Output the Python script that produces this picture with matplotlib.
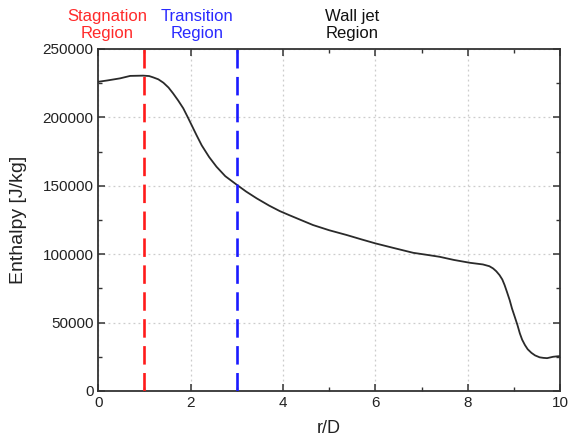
import matplotlib
matplotlib.use("Agg")
import matplotlib.pyplot as plt
import matplotlib.transforms as mtransforms
from matplotlib.ticker import MultipleLocator

plt.rcParams['font.family'] = ['Liberation Sans', 'DejaVu Sans']

# enthalpy profile along the wall
r_d = [0.0, 0.2, 0.47, 0.69, 0.97, 1.1, 1.19, 1.3, 1.41, 1.52, 1.62, 1.73,
       1.84, 1.93, 2.02, 2.13, 2.24, 2.4, 2.56, 2.75, 2.98, 3.2, 3.43, 3.7,
       3.93, 4.13, 4.4, 4.65, 5.0, 5.38, 5.7, 6.0, 6.4, 6.82, 7.1, 7.39,
       7.7, 8.05, 8.33, 8.47, 8.55, 8.62, 8.69, 8.75, 8.80, 8.85, 8.91,
       8.96, 9.02, 9.08, 9.13, 9.18, 9.24, 9.3, 9.38, 9.46, 9.56, 9.64,
       9.72, 9.85, 9.93, 10.0]
enthalpy = [226000, 227000, 228500, 230300, 230500, 230200, 229200, 227800,
            225300, 221800, 217500, 212300, 206600, 200600, 194400, 186800,
            179500, 171000, 163900, 157000, 151200, 145800, 140800, 135500,
            131500, 128600, 124800, 121300, 117500, 114000, 110800, 107900,
            104500, 101000, 99600, 98100, 95800, 93700, 92500, 91200, 89600,
            87500, 84700, 81500, 77400, 72500, 66400, 60300, 54200, 48000,
            42100, 37500, 33600, 30500, 27900, 26000, 24600, 24200, 24000,
            25000, 25300, 25500]

# region boundaries and their labels
boundaries = [1, 3]
boundary_colors = ['#ff1a1a', '#1a1aff']
region_labels = ['Stagnation\nRegion', 'Transition\nRegion', 'Wall jet\nRegion']
region_label_x = [0.2, 2.14, 5.5]
region_colors = ['#ff2a2a', '#2a2aff', '#111111']

fig = plt.figure(figsize=(5.69, 4.41), dpi=100)
ax = fig.add_axes([0.1728, 0.1134, 0.8114, 0.7756])

ax.plot(r_d, enthalpy, color='#2a2a2a', linewidth=1.3, zorder=3)

for xb, c in zip(boundaries, boundary_colors):
    ax.axvline(xb, color=c, linewidth=1.9, dashes=(7, 3.2), zorder=4)

trans = mtransforms.blended_transform_factory(ax.transData, ax.transAxes)
for txt, xpos, c in zip(region_labels, region_label_x, region_colors):
    ax.text(xpos, 1.022, txt, transform=trans, color=c, fontsize=12,
            ha='center', va='bottom', linespacing=1.2)

ax.set_xlim(0, 10)
ax.set_ylim(0, 250000)
ax.xaxis.set_major_locator(MultipleLocator(2))
ax.xaxis.set_minor_locator(MultipleLocator(1))
ax.yaxis.set_major_locator(MultipleLocator(50000))
ax.yaxis.set_minor_locator(MultipleLocator(25000))

ax.grid(which='major', color='#cccccc', linestyle=(0, (1.5, 2.5)), linewidth=0.9)
ax.tick_params(which='both', direction='in', top=True, right=True,
               colors='#333333', labelcolor='#222222', labelsize=11)
ax.tick_params(which='major', length=5, width=1.1)
ax.tick_params(which='minor', length=3, width=1.0)
for sp in ax.spines.values():
    sp.set_color('#333333')
    sp.set_linewidth(1.3)

ax.set_xlabel('r/D', fontsize=13, color='#222222', labelpad=7)
ax.set_ylabel('Enthalpy [J/kg]', fontsize=14, color='#222222', labelpad=11)

fig.savefig('out.png', dpi=100)
